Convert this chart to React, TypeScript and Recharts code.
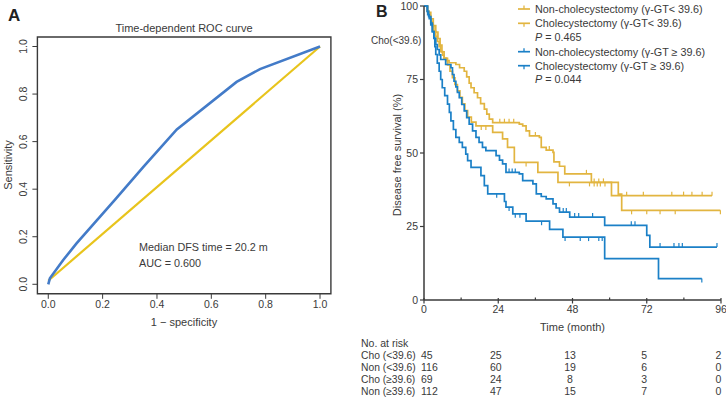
import { ComposedChart, Line, Scatter, XAxis, YAxis, ReferenceArea } from 'recharts';

// --- panel A: time-dependent ROC ---
const rocFpr = [0, 0.006, 0.055, 0.104, 0.245, 0.35, 0.473, 0.693, 0.779, 1];
const rocTpr = [0, 0.025, 0.102, 0.172, 0.355, 0.494, 0.651, 0.851, 0.905, 1];
const refFpr = [0, 1];
const refTpr = [0.015, 1];
const rocTicks = [0, 0.2, 0.4, 0.6, 0.8, 1];

// --- panel B: Kaplan-Meier curves (time in months, survival in %) ---
const nonLowTimes = [0, 1, 1.6, 2.2, 2.7, 3.2, 3.8, 4.3, 4.9, 5.4, 6, 6.5, 7.3, 8.1, 10.3, 11.5, 13, 13.8, 14.6, 15.2, 16.2, 17.3, 18.3, 19.5, 20.3, 21.1, 22.2, 30.8, 31.9, 33, 34.1, 37.3, 37.9, 39.5, 41.7, 42, 43.8, 45.5, 54.1, 60.6, 93.1];
const nonLowSurv = [100, 98.3, 96.6, 94.8, 93.1, 91.4, 89.7, 88, 86.2, 84.5, 83.3, 82.3, 81.4, 80.7, 80.1, 79, 77.8, 75.9, 73.8, 72.2, 70.5, 68.8, 66.8, 64.9, 63.2, 61.5, 60.3, 59.8, 59.2, 57.5, 55.8, 55.3, 51.9, 51, 50.2, 47, 45.5, 42.9, 40, 35.5, 35.5];
const nonLowCensor = [24.5, 26, 27.5, 29, 36, 40.5, 52.5, 55, 56.5, 58, 65.5, 70.9, 80.1, 83.9, 86.6, 89.9, 93.1];

const choLowTimes = [0, 1.2, 2.2, 3, 3.8, 4.5, 5.2, 5.8, 6.5, 7.6, 8.4, 9.2, 10, 10.8, 11.6, 12.4, 13.2, 14.1, 15.3, 16.8, 22.2, 25.4, 27, 29.2, 36.8, 43.3, 62.8, 63.9, 95.8];
const choLowSurv = [100, 97.8, 95.6, 93.3, 91.1, 88.9, 86.7, 84.4, 82.2, 80, 77.8, 75.6, 73.3, 71.1, 68.9, 66.7, 64.4, 62.2, 60.5, 59.2, 57, 54.8, 51.9, 46.8, 43.4, 40, 36, 30.5, 30.5];
const choLowCensor = [18.5, 20, 33, 47, 53.5, 55, 56, 57, 58.5, 67.1, 72, 76.3, 81.2, 95.8];

const nonHighTimes = [0, 1, 1.5, 2.2, 2.7, 3.2, 3.8, 4.3, 4.9, 5.4, 7, 8.7, 9.2, 9.7, 10.3, 10.8, 11.4, 12.2, 13, 13.8, 14.6, 15.7, 16.8, 17.8, 18.9, 20, 23.3, 24.4, 25.4, 26.5, 30.8, 31.9, 35.2, 36.3, 37.9, 39.5, 41.7, 42.7, 43.8, 47.1, 58.4, 72, 73, 94.7];
const nonHighSurv = [100, 98.2, 96.4, 93.6, 91.3, 89, 86.9, 85.2, 83.4, 81.8, 80.1, 79, 76.7, 74.4, 72.5, 70.6, 68.8, 66.5, 64.3, 62, 59.8, 57.5, 55.3, 53.6, 51.9, 50.8, 49.1, 47.6, 46.3, 43.4, 42.9, 40.6, 39.5, 36.1, 35.2, 34.4, 32.7, 31.3, 29.9, 28.2, 25.4, 22, 18, 18];
const nonHighCensor = [27.5, 28.5, 29.5, 45, 46, 48.7, 50, 54.5, 67, 68.2, 76.3, 80.8, 82.4, 83.5, 94.7];

const choHighTimes = [0, 1.2, 1.7, 2.2, 2.7, 3.2, 3.5, 3.8, 4.3, 4.9, 5.4, 5.9, 6.7, 7.6, 8.2, 8.7, 9.5, 10.3, 11.4, 12.4, 13.5, 14.1, 15.2, 18.4, 19.5, 20.6, 26, 26.5, 28.7, 33, 40.6, 44.9, 58.4, 75.8, 89.8];
const choHighSurv = [100, 97.1, 95.7, 94.2, 91.3, 89.1, 86.2, 83.5, 80.6, 77.8, 75, 72.2, 69.5, 66.6, 63.8, 60.9, 58, 55.3, 53.6, 51.9, 49.6, 47.4, 45.1, 42.3, 38.9, 36.1, 33.5, 31.6, 29.3, 26.8, 24, 21.4, 14.1, 7.3, 7.3];
const choHighCensor = [23.5, 27.5, 29.5, 31, 38, 45.6, 50.5, 53.2, 56.5, 57.6, 89.8];

const kmTicksX = [0, 12, 24, 36, 48, 60, 72, 84, 96];
const kmLabelledX = [0, 24, 48, 72, 96];
const kmTicksY = [0, 25, 50, 75, 100];

// number at risk table
const riskLabels = ['Cho (<39.6)', 'Non (<39.6)', 'Cho (\u226539.6)', 'Non (\u226539.6)'];
const riskChoLow = [45, 25, 13, 5, 2];
const riskNonLow = [116, 60, 19, 6, 0];
const riskChoHigh = [69, 24, 8, 3, 0];
const riskNonHigh = [112, 47, 15, 7, 0];

const GOLD = '#e2b540';
const BLUE = '#1b80c7';
const ROC_BLUE = '#437bc8';
const ROC_YELLOW = '#e8c41c';
const INK = '#3a3a3a';
const FONT = "'Liberation Sans', Arial, sans-serif";

// KM plot area in page pixels
const KM_LEFT = 424;
const KM_RIGHT = 721;
const kmX = (t: number) => KM_LEFT + (t / 96) * (KM_RIGHT - KM_LEFT);

const toPoints = (xs: number[], ys: number[]) => xs.map((t, i) => ({ t, v: ys[i] }));

const survAt = (times: number[], surv: number[], t: number) => {
  let v = surv[0];
  times.forEach((tt, i) => {
    if (tt <= t) v = surv[i];
  });
  return v;
};

const censorPoints = (times: number[], surv: number[], cens: number[]) =>
  cens.map((t) => ({ t, v: survAt(times, surv, t) }));

const CensorTick = (color: string, up: boolean) => (props: any) => {
  const { cx, cy } = props;
  if (cx == null || cy == null) return <g />;
  return <line x1={cx} x2={cx} y1={cy} y2={up ? cy - 4 : cy + 4} stroke={color} strokeWidth={1.2} />;
};

const RotatedYTick = (props: any) => {
  const { x, y, payload } = props;
  return (
    <text
      x={x - 3}
      y={y}
      transform={`rotate(-90 ${x - 3} ${y})`}
      textAnchor="middle"
      fontSize={10.5}
      fill={INK}
      fontFamily={FONT}
    >
      {Number(payload.value).toFixed(1)}
    </text>
  );
};

// x ticks of the KM plot: labelled major ticks cross the axis, minor ticks are short
const KmXTick = (props: any) => {
  const { x, y, payload } = props;
  const axisY = y - 6; // tickSize 4 + tickMargin 2
  const major = kmLabelledX.includes(payload.value);
  return (
    <g>
      <line
        x1={x}
        x2={x}
        y1={major ? axisY - 2 : axisY - 2.5}
        y2={major ? axisY + 3.5 : axisY}
        stroke={INK}
        strokeWidth={1.2}
      />
      {major && (
        <text x={x} y={y} dy="0.71em" textAnchor="middle" fontSize={10.5} fill={INK} fontFamily={FONT}>
          {payload.value}
        </text>
      )}
    </g>
  );
};

function RocChart() {
  const curve = toPoints(rocFpr, rocTpr).map((p) => ({ x: p.t, y: p.v }));
  const ref = toPoints(refFpr, refTpr).map((p) => ({ x: p.t, y: p.v }));
  return (
    <ComposedChart width={345} height={340} margin={{ top: 37, right: 14.1, bottom: 16.2, left: 7.4 }}>
      <XAxis
        type="number"
        dataKey="x"
        domain={[-0.04, 1.04]}
        ticks={rocTicks}
        tickFormatter={(v: number) => v.toFixed(1)}
        axisLine={false}
        tickSize={5}
        height={30}
        tick={{ fontSize: 10.5, fill: INK, fontFamily: FONT }}
        tickLine={{ stroke: INK }}
        allowDataOverflow
      />
      <YAxis
        type="number"
        dataKey="y"
        domain={[-0.04, 1.04]}
        ticks={rocTicks}
        axisLine={false}
        tickSize={5}
        width={30}
        tick={<RotatedYTick />}
        tickLine={{ stroke: INK }}
        allowDataOverflow
      />
      <ReferenceArea x1={-0.04} x2={1.04} y1={-0.04} y2={1.04} fill="none" stroke={INK} strokeWidth={1.4} fillOpacity={0} />
      <Line data={ref} dataKey="y" type="linear" stroke={ROC_YELLOW} strokeWidth={2.2} dot={false} isAnimationActive={false} />
      <Line data={curve} dataKey="y" type="linear" stroke={ROC_BLUE} strokeWidth={2.6} dot={false} isAnimationActive={false} />
    </ComposedChart>
  );
}

function KmChart() {
  const series = [
    { times: nonLowTimes, surv: nonLowSurv, cens: nonLowCensor, color: GOLD, up: true },
    { times: choLowTimes, surv: choLowSurv, cens: choLowCensor, color: GOLD, up: false },
    { times: nonHighTimes, surv: nonHighSurv, cens: nonHighCensor, color: BLUE, up: true },
    { times: choHighTimes, surv: choHighSurv, cens: choHighCensor, color: BLUE, up: false },
  ];
  return (
    <ComposedChart width={366} height={340} margin={{ top: 6, right: 5, bottom: 20, left: 24 }}>
      <XAxis
        type="number"
        dataKey="t"
        domain={[0, 96]}
        ticks={kmTicksX}
        interval={0}
        tickSize={4}
        tickMargin={2}
        height={20}
        tick={<KmXTick />}
        axisLine={{ stroke: INK, strokeWidth: 1.5 }}
        tickLine={false}
      />
      <YAxis
        type="number"
        dataKey="v"
        domain={[0, 100]}
        ticks={kmTicksY}
        tickSize={4}
        width={40}
        tick={{ fontSize: 10.5, fill: INK, fontFamily: FONT }}
        axisLine={{ stroke: INK, strokeWidth: 1.5 }}
        tickLine={{ stroke: INK, strokeWidth: 1.2 }}
      />
      {series.map((s, i) => (
        <Line
          key={`km-${i}`}
          data={toPoints(s.times, s.surv)}
          dataKey="v"
          type="stepAfter"
          stroke={s.color}
          strokeWidth={1.7}
          dot={false}
          isAnimationActive={false}
        />
      ))}
      {series.map((s, i) => (
        <Scatter
          key={`cens-${i}`}
          data={censorPoints(s.times, s.surv, s.cens)}
          shape={CensorTick(s.color, s.up)}
          isAnimationActive={false}
        />
      ))}
    </ComposedChart>
  );
}

export default function App() {
  const legend = [
    { label: 'Non-cholecystectomy (\u03b3-GT< 39.6)', color: GOLD, up: true },
    { label: 'Cholecystectomy (\u03b3-GT< 39.6)', color: GOLD, up: false },
    { label: 'P', p: '0.465' },
    { label: 'Non-cholecystectomy (\u03b3-GT \u2265 39.6)', color: BLUE, up: true },
    { label: 'Cholecystectomy (\u03b3-GT \u2265 39.6)', color: BLUE, up: false },
    { label: 'P', p: '0.044' },
  ];
  const legendY = [9, 23.3, 37, 51.7, 65.7, 79.5];
  const riskRows = [riskChoLow, riskNonLow, riskChoHigh, riskNonHigh];
  const riskRowY = [355, 367, 379, 391];

  return (
    <div style={{ position: 'absolute', left: 0, top: 0, width: 726, height: 403, background: '#fff', fontFamily: FONT }}>
      <div style={{ position: 'absolute', left: 0, top: 0 }}>
        <RocChart />
      </div>
      <div style={{ position: 'absolute', left: 360, top: 0 }}>
        <KmChart />
      </div>
      <svg width={726} height={403} style={{ position: 'absolute', left: 0, top: 0, pointerEvents: 'none' }} fontFamily={FONT}>
        {/* panel A text */}
        <text x={8} y={21} fontSize={17} fontWeight="bold" fill="#222">A</text>
        <text x={184} y={31.5} fontSize={11} textAnchor="middle" fill={INK}>Time-dependent ROC curve</text>
        <text x={139} y={250.5} fontSize={10.8} fill={INK}>Median DFS time = 20.2 m</text>
        <text x={139} y={266.5} fontSize={10.8} fill={INK}>AUC = 0.600</text>
        <text x={184} y={326} fontSize={11} textAnchor="middle" fill={INK}>1 {'\u2212'} specificity</text>
        <text x={12} y={165} fontSize={11} textAnchor="middle" fill={INK} transform="rotate(-90 12 165)">Sensitivity</text>

        {/* panel B text */}
        <text x={376} y={17} fontSize={16} fontWeight="bold" fill="#222">B</text>
        <text x={371} y={43.5} fontSize={10} fill={INK}>Cho(&lt;39.6)</text>
        <text x={401} y={155} fontSize={11} textAnchor="middle" fill={INK} transform="rotate(-90 401 155)">Disease free survival (%)</text>
        <text x={kmX(48)} y={331} fontSize={11} textAnchor="middle" fill={INK}>Time (month)</text>

        {legend.map((l, i) => {
          const y = legendY[i];
          if (l.p) {
            return (
              <text key={i} x={535} y={y + 3.8} fontSize={10.8} fill={INK}>
                <tspan fontStyle="italic">P</tspan> = {l.p}
              </text>
            );
          }
          return (
            <g key={i}>
              <line x1={518} x2={530} y1={y} y2={y} stroke={l.color} strokeWidth={1.7} />
              <line x1={524} x2={524} y1={y} y2={l.up ? y - 3.5 : y + 3.5} stroke={l.color} strokeWidth={1.3} />
              <text x={535} y={y + 3.8} fontSize={10.8} fill={INK}>{l.label}</text>
            </g>
          );
        })}

        {/* number at risk */}
        <text x={361} y={347} fontSize={10.5} fill={INK}>No. at risk</text>
        {riskRows.map((row, r) => (
          <g key={r}>
            <text x={361} y={riskRowY[r] + 3.8} fontSize={10.3} fill={INK}>{riskLabels[r]}</text>
            {row.map((n, c) => (
              <text
                key={c}
                x={c === 0 ? 421 : kmX(kmLabelledX[c]) - 2.5}
                y={riskRowY[r] + 3.8}
                fontSize={10.5}
                textAnchor={c === 0 ? 'start' : 'middle'}
                fill={INK}
              >
                {n}
              </text>
            ))}
          </g>
        ))}
      </svg>
    </div>
  );
}
